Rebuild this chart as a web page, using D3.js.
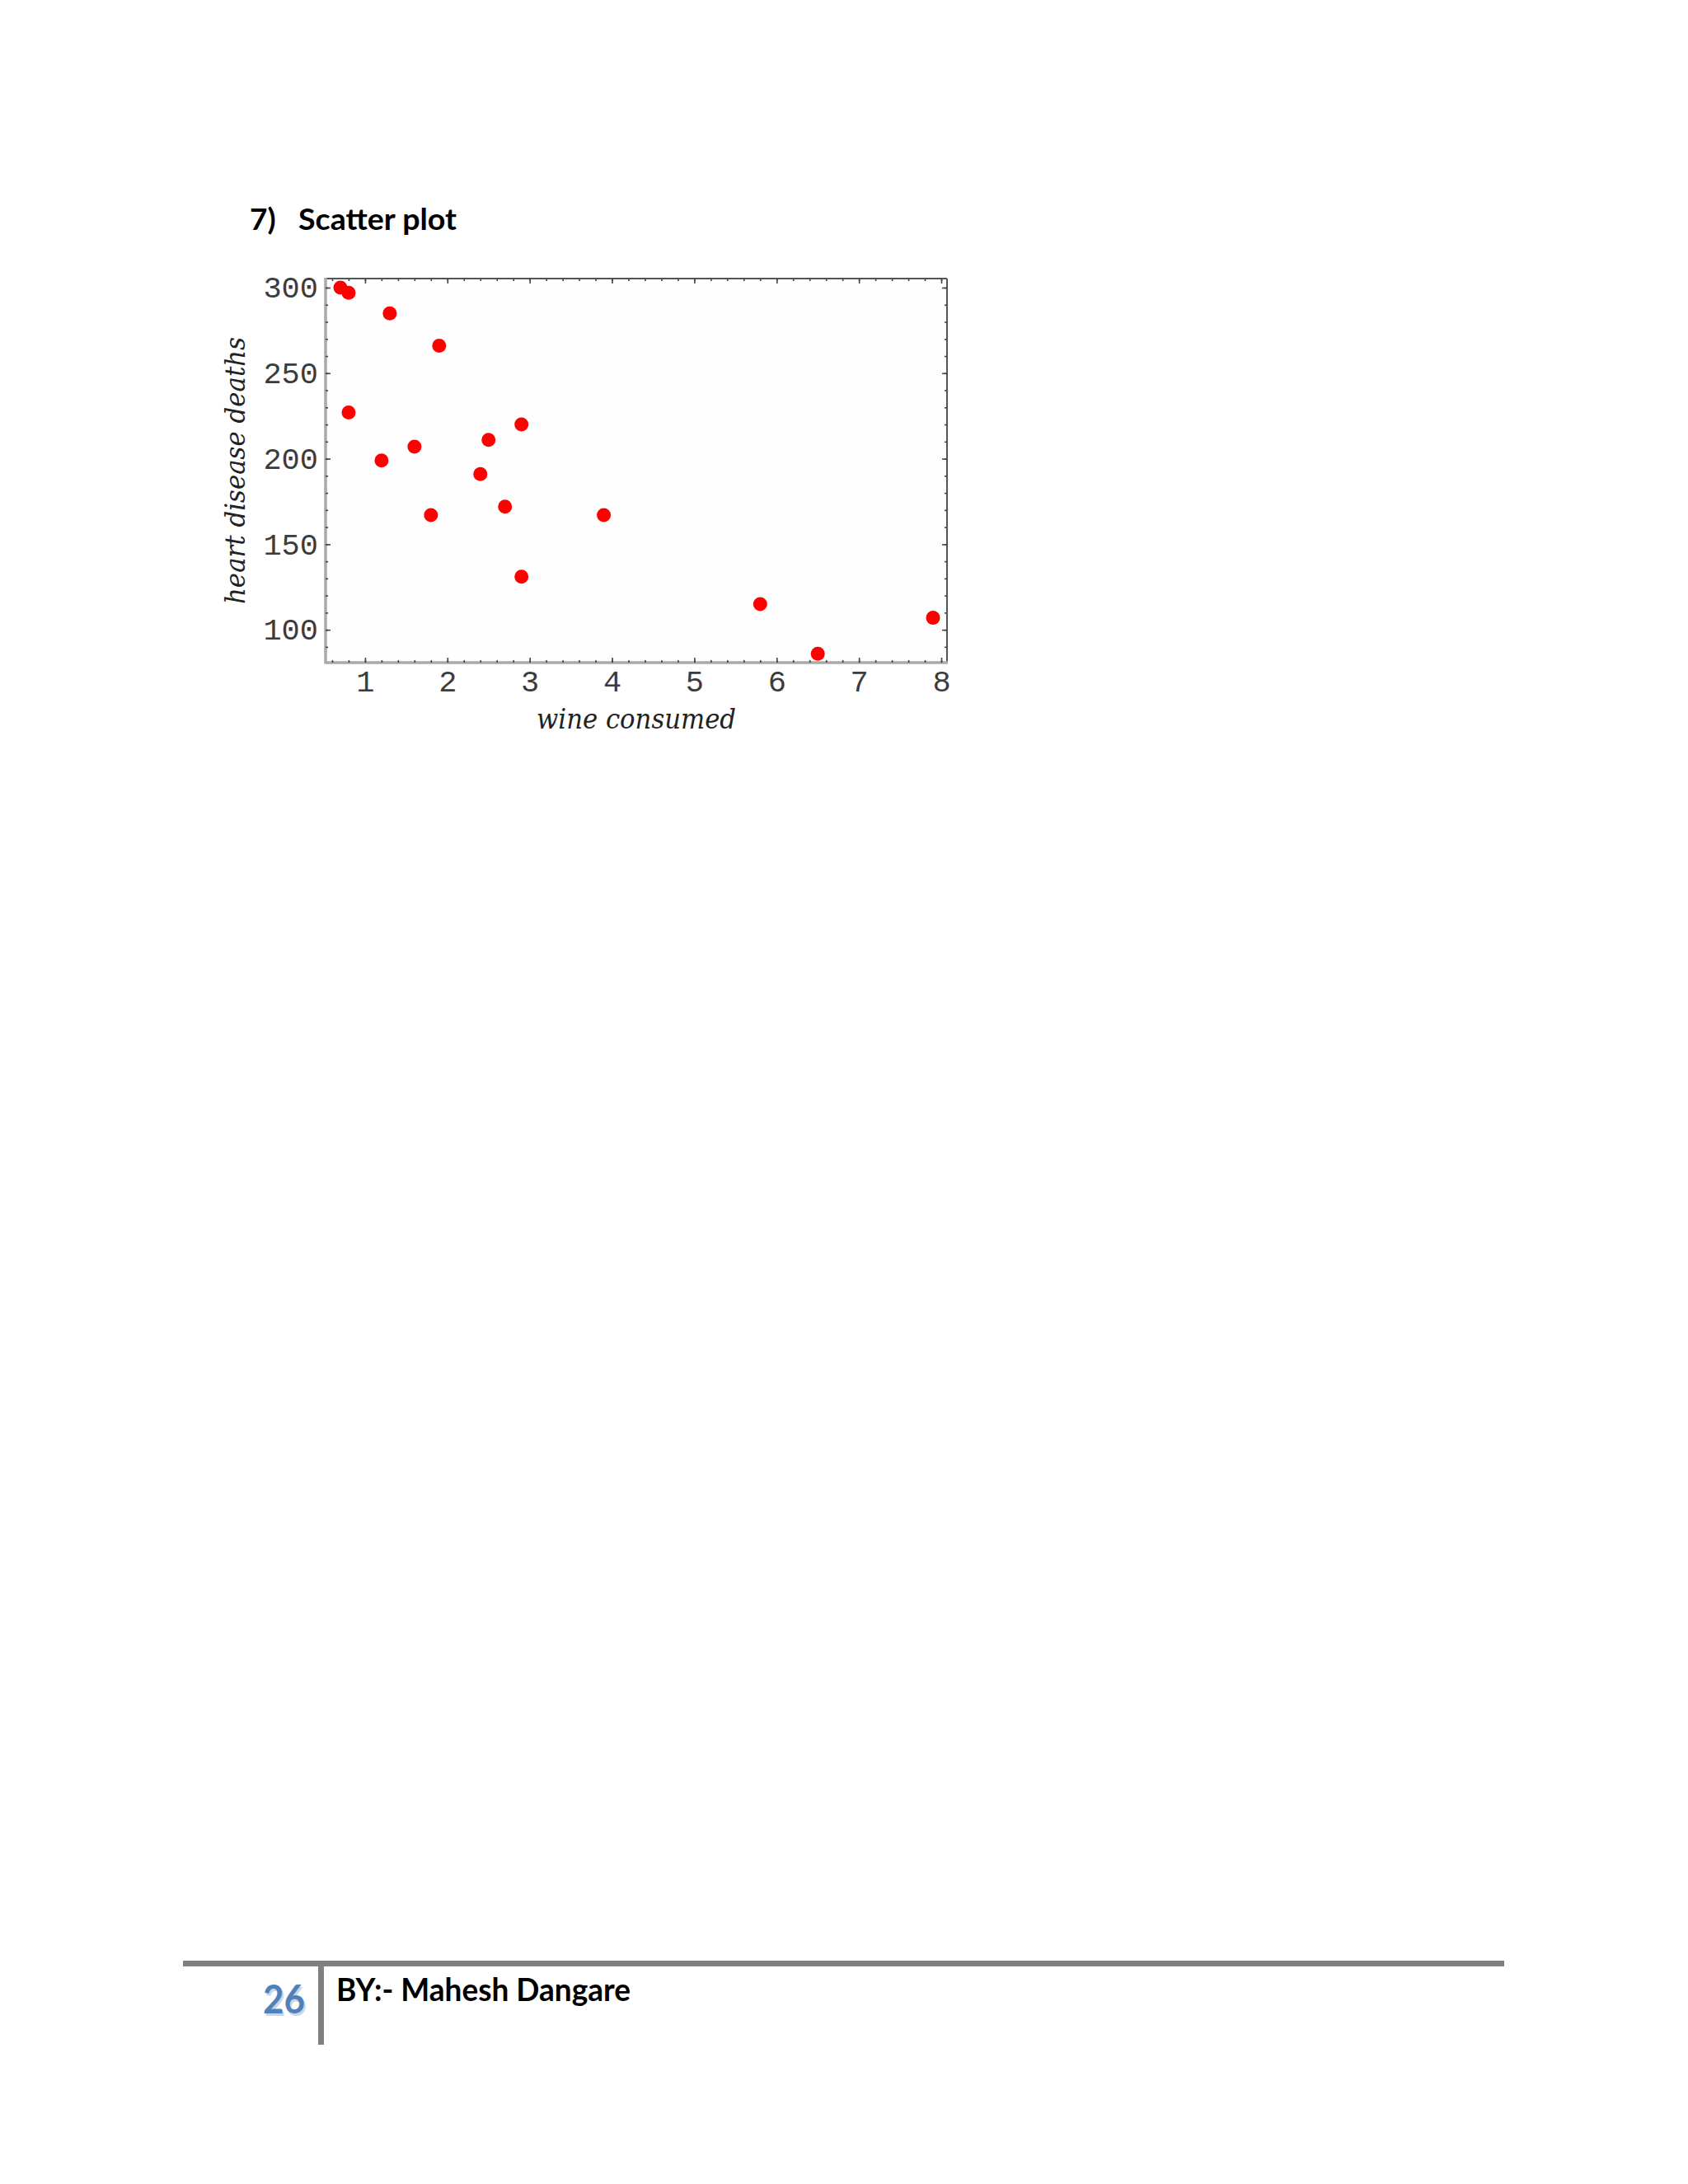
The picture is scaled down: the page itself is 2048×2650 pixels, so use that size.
<!DOCTYPE html>
<html>
<head>
<meta charset="utf-8">
<script src="https://cdnjs.cloudflare.com/ajax/libs/d3/7.8.5/d3.min.js"></script>
<style>
  body { margin: 0; background: #fff; }
  svg { display: block; }
</style>
</head>
<body>
<svg id="page" width="2048" height="2650"></svg>
<script>
// wine consumed (litres / person) vs heart disease deaths
var wine   = [0.7, 0.8, 1.3, 1.9, 0.8, 2.9, 2.5, 1.6, 1.2, 2.4, 1.8, 2.7, 3.9, 2.9, 5.8, 6.5, 7.9];
var deaths = [300, 297, 285, 266, 227, 220, 211, 207, 199, 191, 167, 172, 167, 131, 115, 86, 107];

var xTicks = [1, 2, 3, 4, 5, 6, 7, 8];
var yTicks = [100, 150, 200, 250, 300];

var svg = d3.select("#page"),
    pLeft = 395, pRight = 1149, pTop = 338, pBottom = 804;

var x = d3.scaleLinear().domain([0.52, 8.07]).range([pLeft, pRight]);
var y = d3.scaleLinear().domain([80.8, 305.3]).range([pBottom, pTop]);

var xMinor = d3.range(0.6, 8.05, 0.2).map(function(d) { return +d.toFixed(1); });
var yMinor = d3.range(90, 305, 10);

// page title
var title = svg.append("g").style("font-family", "Lato, 'Open Sans', sans-serif").style("font-weight", 700);
title.append("text").attr("x", 303).attr("y", 279).style("font-size", "37px").text("7)");
title.append("text").attr("x", 362).attr("y", 279).style("font-size", "37px")
  .attr("textLength", 192).attr("lengthAdjust", "spacingAndGlyphs").text("Scatter plot");

// frame
svg.append("rect").attr("x", pLeft).attr("y", pTop).attr("width", pRight - pLeft).attr("height", pBottom - pTop)
  .attr("fill", "#fefefe");
svg.append("line").attr("x1", pLeft).attr("x2", pRight).attr("y1", pTop).attr("y2", pTop)
  .attr("stroke", "#555").attr("stroke-width", 2);
svg.append("line").attr("x1", pRight).attr("x2", pRight).attr("y1", pTop).attr("y2", pBottom)
  .attr("stroke", "#555").attr("stroke-width", 2);
svg.append("line").attr("x1", pLeft).attr("x2", pLeft).attr("y1", pTop - 1).attr("y2", pBottom + 1.5)
  .attr("stroke", "#aaa").attr("stroke-width", 3.5);
svg.append("line").attr("x1", pLeft).attr("x2", pRight + 1).attr("y1", pBottom).attr("y2", pBottom)
  .attr("stroke", "#aaa").attr("stroke-width", 3.5);

function tickStyle(g) {
  g.select(".domain").remove();
  g.selectAll(".tick line").attr("stroke", "#444").attr("stroke-width", 1.6);
}

// minor ticks on all four sides
svg.append("g").attr("transform", "translate(0," + pBottom + ")")
  .call(d3.axisBottom(x).tickValues(xMinor).tickSize(-3).tickFormat("")).call(tickStyle);
svg.append("g").attr("transform", "translate(0," + pTop + ")")
  .call(d3.axisTop(x).tickValues(xMinor).tickSize(-3).tickFormat("")).call(tickStyle);
svg.append("g").attr("transform", "translate(" + pLeft + ",0)")
  .call(d3.axisLeft(y).tickValues(yMinor).tickSize(-3).tickFormat("")).call(tickStyle);
svg.append("g").attr("transform", "translate(" + pRight + ",0)")
  .call(d3.axisRight(y).tickValues(yMinor).tickSize(-3).tickFormat("")).call(tickStyle);

// major ticks
svg.append("g").attr("transform", "translate(0," + pTop + ")")
  .call(d3.axisTop(x).tickValues(xTicks).tickSize(-6).tickFormat("")).call(tickStyle);
svg.append("g").attr("transform", "translate(" + pRight + ",0)")
  .call(d3.axisRight(y).tickValues(yTicks).tickSize(-6).tickFormat("")).call(tickStyle);

var xAxis = svg.append("g").attr("transform", "translate(0," + pBottom + ")")
  .call(d3.axisBottom(x).tickValues(xTicks).tickSize(-6).tickPadding(9).tickFormat(d3.format("d")))
  .call(tickStyle);
var yAxis = svg.append("g").attr("transform", "translate(" + pLeft + ",0)")
  .call(d3.axisLeft(y).tickValues(yTicks).tickSize(-6).tickPadding(9).tickFormat(d3.format("d")))
  .call(tickStyle);

[xAxis, yAxis].forEach(function(a) {
  a.selectAll("text").style("font-family", "'Liberation Mono', 'DejaVu Sans Mono', monospace")
    .style("font-size", "37px").attr("fill", "#3c3c3c");
});

// points
svg.append("g").selectAll("circle")
  .data(wine)
  .enter().append("circle")
  .attr("cx", function(d) { return x(d); })
  .attr("cy", function(d, i) { return y(deaths[i]); })
  .attr("r", 8.5)
  .attr("fill", "#ff0000");

// axis titles
svg.append("text").attr("x", (pLeft + pRight) / 2).attr("y", 884).attr("text-anchor", "middle")
  .style("font-family", "'DejaVu Serif', serif").style("font-style", "italic").style("font-size", "33px")
  .attr("fill", "#222").attr("textLength", 242).attr("lengthAdjust", "spacingAndGlyphs")
  .text("wine consumed");
svg.append("text").attr("transform", "translate(297," + (pTop + pBottom) / 2 + ") rotate(-90)")
  .attr("text-anchor", "middle")
  .style("font-family", "'DejaVu Serif', serif").style("font-style", "italic").style("font-size", "33px")
  .attr("fill", "#222").attr("textLength", 324).attr("lengthAdjust", "spacingAndGlyphs")
  .text("heart disease deaths");

// footer
svg.append("line").attr("x1", 222).attr("x2", 1825).attr("y1", 2382.5).attr("y2", 2382.5)
  .attr("stroke", "#808080").attr("stroke-width", 7);
svg.append("line").attr("x1", 389.5).attr("x2", 389.5).attr("y1", 2386).attr("y2", 2481)
  .attr("stroke", "#808080").attr("stroke-width", 7);

var foot = svg.append("g").style("font-family", "Lato, 'Open Sans', sans-serif").style("font-weight", 700);
foot.append("text").attr("x", 321).attr("y", 2446).style("font-size", "48px")
  .attr("fill", "#b8c4d4").attr("opacity", 0.7)
  .attr("textLength", 51).attr("lengthAdjust", "spacingAndGlyphs").text("26");
foot.append("text").attr("x", 319).attr("y", 2443).style("font-size", "48px")
  .attr("fill", "#4f81bd")
  .attr("textLength", 51).attr("lengthAdjust", "spacingAndGlyphs").text("26");
foot.append("text").attr("x", 408).attr("y", 2428).style("font-size", "39px")
  .attr("fill", "#000")
  .attr("textLength", 357).attr("lengthAdjust", "spacingAndGlyphs").text("BY:- Mahesh Dangare");
</script>
</body>
</html>
